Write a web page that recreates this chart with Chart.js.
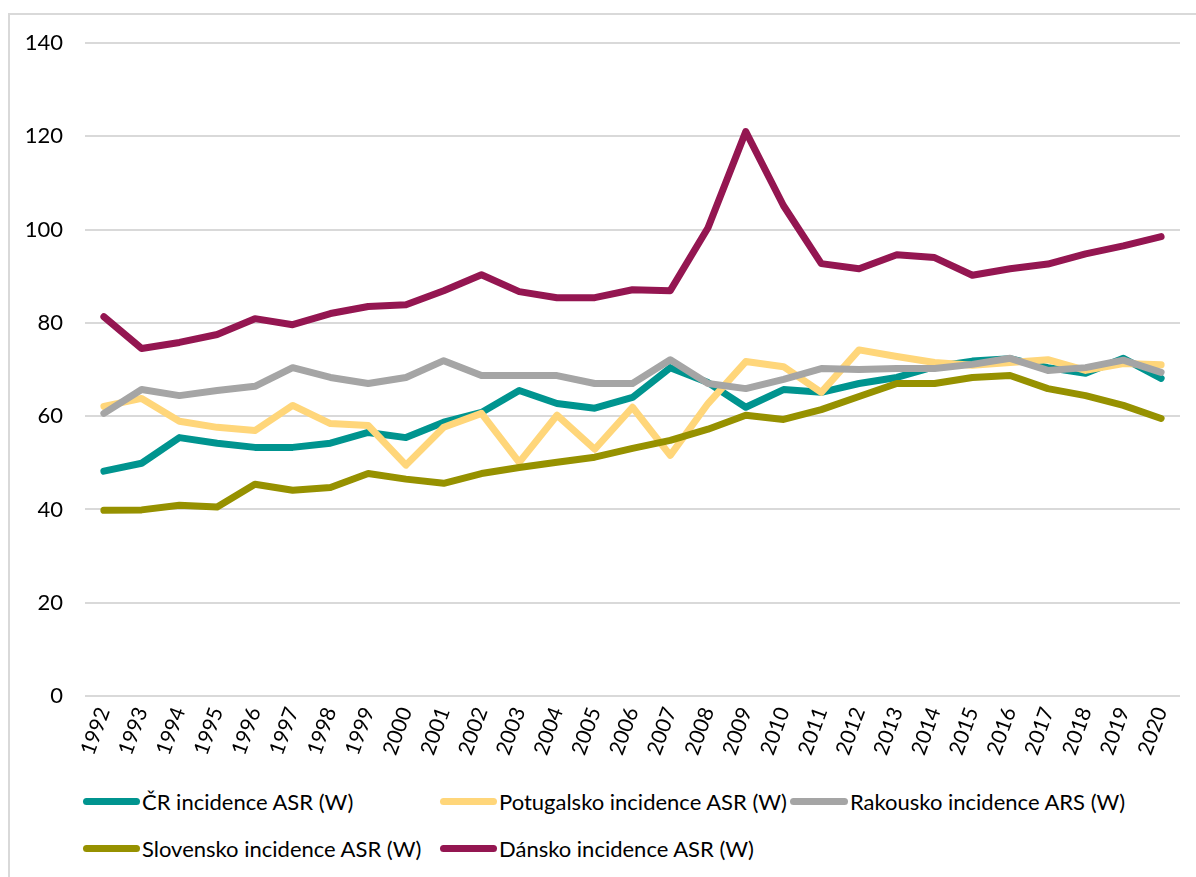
<!DOCTYPE html>
<html>
<head>
<meta charset="utf-8">
<script src="https://cdn.jsdelivr.net/npm/chart.js@4"></script>
<style>
  body { margin: 0; background: #fff; font-family: Lato, "Open Sans", sans-serif; }
  #frame { position: absolute; left: 8px; top: 13px; width: 1300px; height: 1000px;
           border-left: 2px solid #d9d9d9; border-top: 2px solid #d9d9d9; }
  #wrap { position: absolute; left: 0; top: 0; width: 1196px; height: 780px; }
  #legend { position: absolute; left: 0; top: 0; }
  .item { position: absolute; display: flex; align-items: center; font-size: 22px; color: #000; white-space: nowrap; }
  .item span.swatch { display: inline-block; height: 7px; border-radius: 4px; margin-right: 2px; }
</style>
</head>
<body>
<div id="frame"></div>
<div id="wrap"><canvas id="lineChart" width="1196" height="780"></canvas></div>
<div id="legend"></div>
<script>
const years = ["1992","1993","1994","1995","1996","1997","1998","1999","2000","2001","2002","2003","2004","2005","2006","2007","2008","2009","2010","2011","2012","2013","2014","2015","2016","2017","2018","2019","2020"];

const cr = [48.2, 49.9, 55.4, 54.2, 53.3, 53.3, 54.2, 56.5, 55.4, 58.7, 60.8, 65.5, 62.7, 61.7, 64.0, 70.4, 67.2, 61.9, 65.7, 65.1, 67.0, 68.3, 70.6, 71.8, 72.3, 70.4, 69.2, 72.4, 68.1];
const portugalsko = [62.1, 63.8, 58.9, 57.6, 56.9, 62.3, 58.4, 58.0, 49.5, 57.6, 60.6, 50.1, 60.2, 52.9, 61.9, 51.6, 62.7, 71.7, 70.6, 65.1, 74.2, 72.8, 71.5, 70.9, 71.5, 72.1, 69.8, 71.3, 71.0];
const rakousko = [60.6, 65.7, 64.4, 65.5, 66.4, 70.4, 68.3, 67.0, 68.3, 71.9, 68.7, 68.7, 68.7, 67.0, 67.0, 72.1, 67.0, 65.9, 67.9, 70.2, 70.0, 70.2, 70.2, 71.1, 72.4, 69.8, 70.4, 72.0, 69.4];
const slovensko = [39.8, 39.9, 40.9, 40.5, 45.4, 44.1, 44.7, 47.7, 46.5, 45.6, 47.7, 49.0, 50.1, 51.2, 53.1, 54.8, 57.2, 60.2, 59.3, 61.4, 64.2, 67.0, 67.0, 68.3, 68.7, 65.9, 64.4, 62.3, 59.5];
const dansko = [81.3, 74.5, 75.8, 77.5, 80.9, 79.6, 82.0, 83.5, 83.9, 86.9, 90.3, 86.7, 85.4, 85.4, 87.1, 86.9, 100.4, 121.0, 105.1, 92.7, 91.6, 94.6, 94.0, 90.2, 91.6, 92.6, 94.8, 96.5, 98.5];

const seriesNames = ["ČR incidence ASR (W)", "Potugalsko incidence ASR (W)", "Rakousko incidence ARS (W)", "Slovensko incidence ASR (W)", "Dánsko incidence ASR (W)"];
const seriesColors = ["#00948f", "#ffd67a", "#a5a5a5", "#969100", "#941651"];
const seriesData = [cr, portugalsko, rakousko, slovensko, dansko];

// legend placement (Excel style, two rows): left, centre y, swatch width
const legendPos = [[83, 803, 57], [440, 803, 57], [790, 803, 58], [83, 850, 57], [440, 850, 57]];

const datasets = seriesNames.map((name, i) => ({
  label: name,
  data: seriesData[i],
  borderColor: seriesColors[i],
  backgroundColor: seriesColors[i],
  borderWidth: 7,
  pointRadius: 0,
  tension: 0,
  borderCapStyle: "round",
  borderJoinStyle: "round",
  order: seriesNames.length - i
}));

const chart = new Chart(document.getElementById("lineChart"), {
  type: "line",
  data: { labels: years, datasets: datasets },
  options: {
    responsive: false,
    animation: false,
    layout: { padding: { left: 10, right: 16, top: 43, bottom: 0 } },
    plugins: { legend: { display: false }, tooltip: { enabled: false } },
    scales: {
      x: {
        offset: true,
        grid: { display: false, drawTicks: false },
        border: { display: false },
        ticks: {
          minRotation: 70, maxRotation: 70, autoSkip: false, padding: 8,
          color: "#000", font: { family: "Lato", size: 21 }
        },
        afterFit: s => { s.height = 84; }
      },
      y: {
        min: 0, max: 140,
        grid: { color: "#d9d9d9", lineWidth: 2, drawTicks: false },
        border: { display: false },
        ticks: { stepSize: 20, padding: 22, color: "#000", font: { family: "Lato", size: 22 } },
        afterFit: s => { s.width = 75; }
      }
    }
  }
});

const legend = document.getElementById("legend");
seriesNames.forEach((name, i) => {
  const [x, y, w] = legendPos[i];
  const el = document.createElement("div");
  el.className = "item";
  el.style.left = x + "px";
  el.style.top = (y - 15) + "px";
  el.innerHTML = '<span class="swatch" style="width:' + w + 'px;background:' + seriesColors[i] + '"></span>' + name;
  legend.appendChild(el);
});
</script>
</body>
</html>
